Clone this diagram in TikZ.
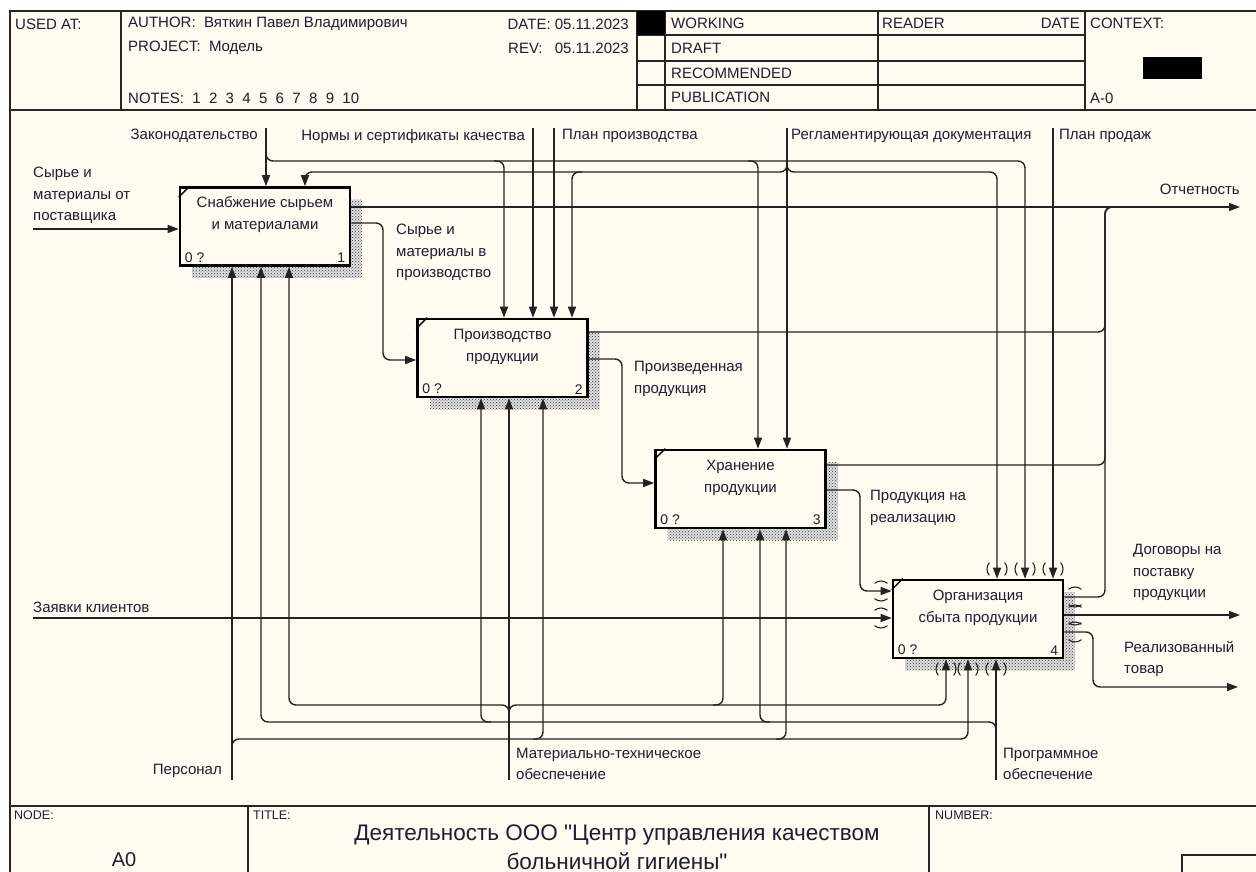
\documentclass[tikz,border=0pt]{standalone}
\usepackage{fontspec}
\setmainfont{Liberation Sans}
\newfontfamily\titlefont{Liberation Sans}
\usetikzlibrary{arrows.meta,positioning,calc,patterns}
\definecolor{paper}{RGB}{255,251,240}
\definecolor{ink}{RGB}{30,30,45}
\definecolor{wire}{RGB}{35,35,35}

\begin{document}
\begin{tikzpicture}[x=1pt,y=-1pt,
  lbl/.style={font=\fontsize{15}{21.5}\selectfont, text=ink, inner sep=0pt, align=left},
  hdr/.style={font=\fontsize{15}{18}\selectfont, text=ink, inner sep=0pt, anchor=west},
  small/.style={font=\fontsize{12.5}{14}\selectfont, text=ink, inner sep=0pt, anchor=north west},
  func/.style={draw=black, line width=2.6pt, fill=paper, minimum width=170pt,
               minimum height=78pt, inner sep=0pt},
  ftext/.style={font=\fontsize{15}{22}\selectfont, text=ink, align=center, inner sep=0pt},
  corner/.style={font=\fontsize{14}{16}\selectfont, text=ink, inner sep=0pt},
  shade/.style={pattern=crosshatch dots, pattern color=black!80},
  frame/.style={line width=1.3pt, draw=black!85},
  ln/.style={line width=1.4pt, draw=wire, rounded corners=7pt},
  arr/.style={ln, -{Triangle[length=11pt,width=8pt]}},
  tun/.style={line width=1.1pt, draw=wire}
]
  \useasboundingbox (0,0) rectangle (1256,872);
  \fill[white] (0,0) rectangle (1256,872);
  \fill[paper] (10,11) rectangle (1256,872);

  % frame and header
  \draw[frame] (1256,11) -- (10,11) -- (10,872);
  \draw[frame] (10,110) -- (1256,110);
  \foreach \x in {121,637,665,878,1085} \draw[frame] (\x,11) -- (\x,110);
  \foreach \y in {35,61,85} \draw[frame] (637,\y) -- (1085,\y);
  \fill (637,11) rectangle (665,35);
  \fill (1143,57) rectangle (1202,79);
  \draw[frame] (10,806) -- (1256,806);
  \draw[frame] (248,806) -- (248,872) (929,806) -- (929,872);
  \draw[frame] (1182,872) |- (1256,855);

  \node[hdr] (used) at (15,24) {USED AT:};
  \node[hdr] (auth) at (128,24) {AUTHOR:\ \ Вяткин Павел Владимирович};
  \node[hdr] (proj) at (128,48) {PROJECT:\ \ Модель};
  \node[hdr] (notes) at (128,98) {NOTES:\ \ 1\ \ 2\ \ 3\ \ 4\ \ 5\ \ 6\ \ 7\ \ 8\ \ 9\ \ 10};
  \node[hdr, anchor=east] (date) at (629,24) {DATE: 05.11.2023};
  \node[hdr] (rev) at (508,48) {REV:};
  \node[hdr, anchor=east] (revd) at (629,48) {05.11.2023};
  \node[hdr] (wrk) at (671,23) {WORKING};
  \node[hdr] (drf) at (671,48) {DRAFT};
  \node[hdr] (rec) at (671,73) {RECOMMENDED};
  \node[hdr] (pub) at (671,97) {PUBLICATION};
  \node[hdr] (rdr) at (882,23) {READER};
  \node[hdr, anchor=east] (rdate) at (1080,23) {DATE};
  \node[hdr] (ctx) at (1090,23) {CONTEXT:};
  \node[hdr] (ctxa) at (1090,98) {A-0};

  \node[small] (lnode) at (14,811) {NODE:};
  \node[font=\fontsize{20}{24}\selectfont, text=ink, inner sep=0pt] (lA0) at (124,860) {A0};
  \node[small] (ltitle) at (253,811) {TITLE:};
  \node[font=\titlefont\fontsize{22.5}{29}\selectfont, text=ink, align=center, inner sep=0pt] (ltxt) at (617,847)
    {Деятельность ООО "Центр управления качеством\\больничной гигиены"};
  \node[small] (lnum) at (935,811) {NUMBER:};

  % function boxes
  \foreach \n/\cx/\cy/\t in {1/265/226.5/{Снабжение сырьем\\и материалами},
      2/502.5/358/{Производство\\продукции}, 3/740.5/489/{Хранение\\продукции},
      4/978/619/{Организация\\сбыта продукции}}{
    \fill[black!12] (\cx-73,\cy-27) rectangle (\cx+97,\cy+51);
    \fill[shade] (\cx-73,\cy-27) rectangle (\cx+97,\cy+51);
    \node[func] (b\n) at (\cx,\cy) {};
    \draw[line width=1.3pt] ([yshift=-11pt]b\n.north west) -- ([xshift=11pt]b\n.north west);
    \node[ftext] (bt\n) at ([yshift=11.5pt]b\n.center) {\t};
    \node[corner, anchor=south west] (bq\n) at ([shift={(6pt,4pt)}]b\n.south west) {0 ?};
    \node[corner, anchor=south east] (bk\n) at ([shift={(-6pt,4pt)}]b\n.south east) {\n};
  }

  \coordinate (zak) at (266,128);
  \coordinate (norm) at (533,128);
  \coordinate (plpr) at (554,128);
  \coordinate (regl) at (787,128);
  \coordinate (plsa) at (1053,128);
  \coordinate (syr) at (33,229);
  \coordinate (zay) at (33,618);
  \coordinate (pers) at (232,780);
  \coordinate (mto) at (509,780);
  \coordinate (prog) at (996,780);
  \coordinate (otch) at (1240,207);
  \coordinate (dog) at (1240,615);
  \coordinate (real) at (1238,687);
  \coordinate (jn) at (1105,207);

  % inputs
  \draw[arr] (syr) -- (syr -| b1.west);
  \draw[arr] (zay) -- (zay -| b4.west);
  % controls
  \draw[arr] (zak) -- (zak |- b1.north);
  \draw[arr] (norm) -- (norm |- b2.north);
  \draw[arr] (plpr) -- (plpr |- b2.north);
  \draw[arr] (regl) -- (regl |- b3.north);
  \draw[arr] (plsa) -- (plsa |- b4.north);
  \draw[arr] ([yshift=-20pt]zak) |- (1025,161) -- (1025,0 |- b4.north);
  \draw[arr] (494,161) -| (504,0 |- b2.north);
  \draw[arr] (748,161) -| (758,0 |- b3.north);
  \draw[arr] ([yshift=-30pt]regl) |- (305,172) -- (305,0 |- b1.north);
  \draw[arr] ([yshift=-30pt]regl) |- (997,172) -- (997,0 |- b4.north);
  \draw[arr] (582,172) -| (572,0 |- b2.north);
  % mechanisms
  \draw[arr] (pers) -- (pers |- b1.south);
  \draw[arr] (mto) -- (mto |- b2.south);
  \draw[arr] (prog) -- (prog |- b4.south);
  \draw[arr] ([yshift=20pt]pers) |- (968,739) -- (968,0 |- b4.south);
  \draw[arr] (533,739) -| (543,0 |- b2.south);
  \draw[arr] (776,739) -| (786,0 |- b3.south);
  \draw[arr] ([yshift=60pt]mto) |- (289,705) -- (289,0 |- b1.south);
  \draw[arr] ([yshift=60pt]mto) |- (946,705) -- (946,0 |- b4.south);
  \draw[arr] (713,705) -| (723,0 |- b3.south);
  \draw[arr] ([yshift=40pt]prog) |- (261,722) -- (261,0 |- b1.south);
  \draw[arr] (491,722) -| (481,0 |- b2.south);
  \draw[arr] (770,722) -| (760,0 |- b3.south);
  % box to box
  \draw[arr] (b1.east |- 0,223) -- (383,223) -- (383,360) -- (b2.west |- 0,360);
  \draw[arr] (b2.east |- 0,359) -- (622,359) -- (622,483) -- (b3.west |- 0,483);
  \draw[arr] (b3.east |- 0,490) -- (860,490) -- (860,591) -- (b4.west |- 0,591);
  % outputs
  \draw[arr] (b1.east |- otch) -- (otch);
  \foreach \n/\y in {2/332,3/465,4/597} \draw[ln] (b\n.east |- 0,\y) -| (jn) -- ++(20,0);
  \draw[arr] (b4.east |- dog) -- (dog);
  \draw[arr] (b4.east |- 0,632) -- (1093,632) -- (1093,687) -- (real);

  % tunnel marks
  \foreach \tx/\ty in {997/569,1025/569,1053/569,946/669,968/669,996/669}
    \draw[tun] (\tx,\ty) ++(140:10) arc[start angle=140,end angle=220,radius=10]
               (\tx,\ty) ++(-40:10) arc[start angle=-40,end angle=40,radius=10];
  \foreach \tx/\ty in {881/591,881/618,1075/597,1075/615,1075/632}
    \draw[tun] (\tx,\ty) ++(50:10) arc[start angle=50,end angle=130,radius=10]
               (\tx,\ty) ++(230:10) arc[start angle=230,end angle=310,radius=10];

  % labels
  \node[lbl, above right=5pt and 0pt of syr] (lsyr) {Сырье и\\материалы от\\поставщика};
  \node[lbl, above right=5pt and 0pt of zay] (lzay) {Заявки клиентов};
  \node[lbl, below left=1pt and 8pt of zak] (lzak) {Законодательство};
  \node[lbl, below left=1pt and 8pt of norm] (lnorm) {Нормы и сертификаты качества};
  \node[lbl, below right=1pt and 8pt of plpr] (lplpr) {План производства};
  \node[lbl, below right=1pt and 4pt of regl] (lregl) {Регламентирующая документация};
  \node[lbl, below right=1pt and 6pt of plsa] (lplsa) {План продаж};
  \node[lbl, above left=2pt and 10pt of pers] (lpers) {Персонал};
  \node[lbl, above right=0pt and 7pt of mto] (lmto) {Материально-техническое\\обеспечение};
  \node[lbl, above right=0pt and 7pt of prog] (lprog) {Программное\\обеспечение};
  \node[lbl, above left=12pt and 0pt of otch] (lotch) {Отчетность};
  \node[lbl, anchor=north west] (l12) at (396,224) {Сырье и\\материалы в\\производство};
  \node[lbl, anchor=north west] (l23) at (634,361) {Произведенная\\продукция};
  \node[lbl, anchor=north west] (l34) at (870,490) {Продукция на\\реализацию};
  \node[lbl, anchor=north west] (ldog) at (1133,544) {Договоры на\\поставку\\продукции};
  \node[lbl, anchor=north west] (lreal) at (1124,641) {Реализованный\\товар};
\end{tikzpicture}
\end{document}
